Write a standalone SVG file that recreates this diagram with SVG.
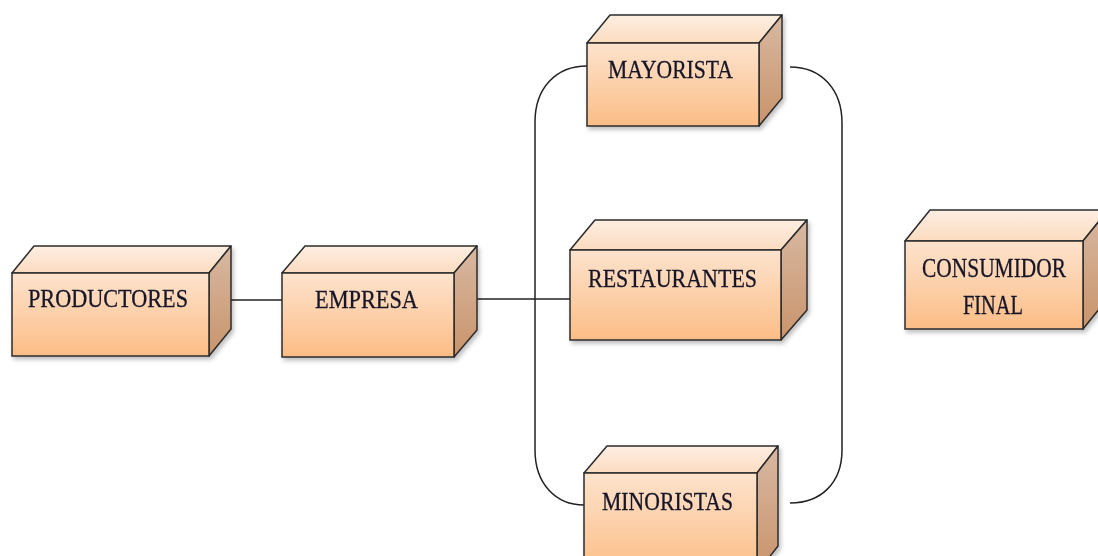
<svg xmlns="http://www.w3.org/2000/svg" width="1098" height="556" viewBox="0 0 1098 556">
<defs>
<linearGradient id="gFront" x1="0" y1="0" x2="0" y2="1"><stop offset="0" stop-color="#fde3cd"/><stop offset="1" stop-color="#fcbd86"/></linearGradient>
<linearGradient id="gTop" x1="0" y1="1" x2="0" y2="0"><stop offset="0" stop-color="#fcdcc0"/><stop offset="1" stop-color="#fdeee2"/></linearGradient>
<linearGradient id="gSide" x1="0" y1="0" x2="0" y2="1"><stop offset="0" stop-color="#d8b8a2"/><stop offset="1" stop-color="#c9946b"/></linearGradient>
<filter id="sh" x="-10%" y="-10%" width="130%" height="130%"><feDropShadow dx="2" dy="3" stdDeviation="2" flood-color="#000" flood-opacity="0.25"/></filter>
</defs>
<style>
.front{fill:url(#gFront);stroke:#2b2b2b;stroke-width:1.5}
.top{fill:url(#gTop);stroke:#2b2b2b;stroke-width:1.5;stroke-linejoin:round}
.side{fill:url(#gSide);stroke:#2b2b2b;stroke-width:1.5;stroke-linejoin:round}
.lbl{font-family:"Liberation Serif","DejaVu Serif",serif;font-size:26px;fill:#141428;stroke:#141428;stroke-width:0.3}
.big{font-size:28px}
.conn{fill:none;stroke:#222;stroke-width:1.5}
</style>
<rect width="1098" height="556" fill="#ffffff"/>
<g id="connectors">
<line class="conn" x1="231" y1="300" x2="282" y2="300"/>
<line class="conn" x1="477" y1="299" x2="570" y2="299"/>
<path class="conn" d="M587,66 C556,66 535,88 535,122 L535,450 C535,484 556,505 584,505"/>
<path class="conn" d="M790,67 C821,67 842,89 842,123 L842,450 C842,483 821,503 790,503"/>
</g>
<g id="productores" filter="url(#sh)">
<polygon class="top" points="12,273 34,246 231,246 209,273"/>
<polygon class="side" points="209,273 231,246 231,329 209,356"/>
<rect class="front" x="12" y="273" width="197" height="83"/>
<text class="lbl" x="28" y="307" textLength="160" lengthAdjust="spacingAndGlyphs">PRODUCTORES</text>
</g>
<g id="empresa" filter="url(#sh)">
<polygon class="top" points="282,273 305,246 477,246 454,273"/>
<polygon class="side" points="454,273 477,246 477,330 454,357"/>
<rect class="front" x="282" y="273" width="172" height="84"/>
<text class="lbl" x="315" y="308" textLength="103" lengthAdjust="spacingAndGlyphs">EMPRESA</text>
</g>
<g id="mayorista" filter="url(#sh)">
<polygon class="top" points="587,43 610,15 782,15 759,43"/>
<polygon class="side" points="759,43 782,15 782,98 759,126"/>
<rect class="front" x="587" y="43" width="172" height="83"/>
<text class="lbl" x="608" y="78" textLength="125" lengthAdjust="spacingAndGlyphs">MAYORISTA</text>
</g>
<g id="restaurantes" filter="url(#sh)">
<polygon class="top" points="570,250 595,220 807,220 781,250"/>
<polygon class="side" points="781,250 807,220 807,310 781,340"/>
<rect class="front" x="570" y="250" width="211" height="90"/>
<text class="lbl" x="588" y="287" textLength="169" lengthAdjust="spacingAndGlyphs">RESTAURANTES</text>
</g>
<g id="minoristas" filter="url(#sh)">
<polygon class="top" points="584,473 607,446 778,446 757,473"/>
<polygon class="side" points="757,473 778,446 778,546 757,573"/>
<rect class="front" x="584" y="473" width="173" height="100"/>
<text class="lbl" x="602" y="510" textLength="131" lengthAdjust="spacingAndGlyphs">MINORISTAS</text>
</g>
<g id="consumidor" filter="url(#sh)">
<polygon class="top" points="905,241 930,210 1108,210 1083,241"/>
<polygon class="side" points="1083,241 1108,210 1108,298 1083,329"/>
<rect class="front" x="905" y="241" width="178" height="88"/>
<text class="lbl big" x="922" y="277" textLength="144" lengthAdjust="spacingAndGlyphs">CONSUMIDOR</text>
<text class="lbl big" x="963" y="314" textLength="60" lengthAdjust="spacingAndGlyphs">FINAL</text>
</g>
</svg>
